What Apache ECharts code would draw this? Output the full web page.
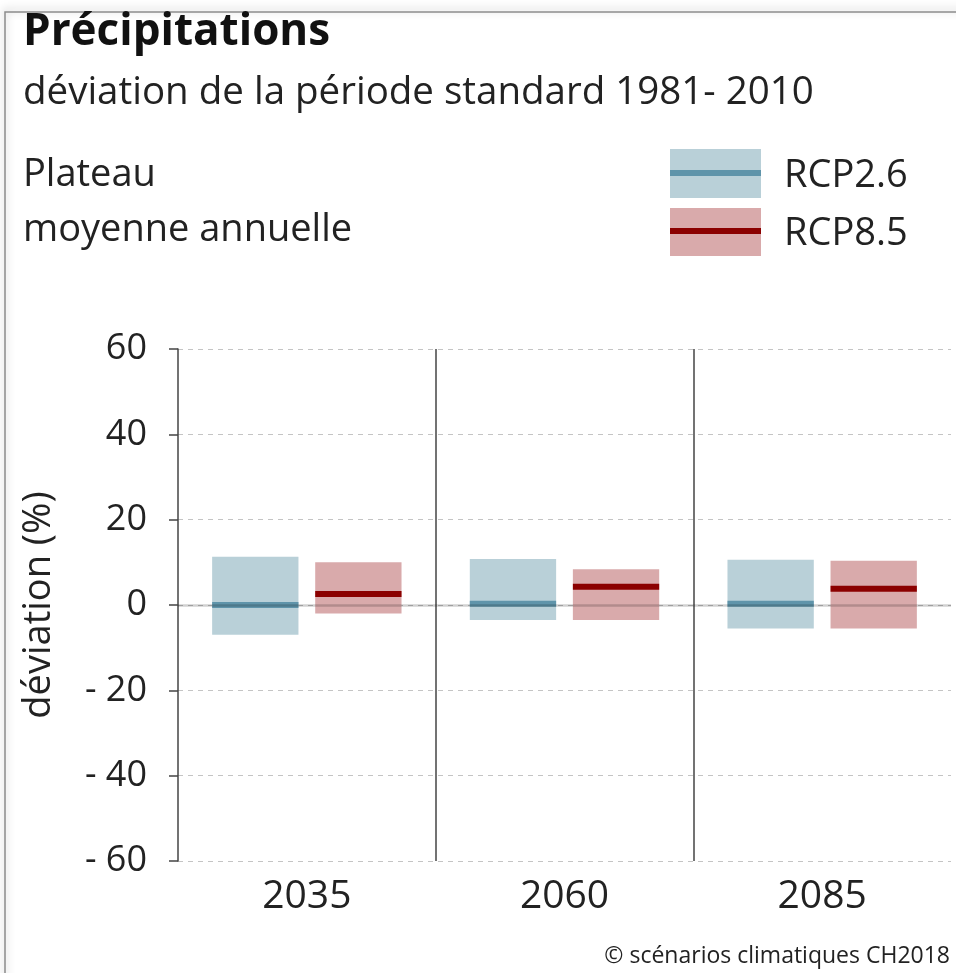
<!DOCTYPE html>
<html>
<head>
<meta charset="utf-8">
<script src="https://cdn.jsdelivr.net/npm/echarts@6/dist/echarts.min.js"></script>
<style>
  html, body { margin: 0; padding: 0; background: #fff; }
  #chart { width: 956px; height: 973px; }
</style>
</head>
<body>
<div id="chart"></div>
<script>
// périodes
const years = ['2035', '2060', '2085']
// RCP2.6 : bas / haut / médiane (%)
const rcp26Low = [-7.0, -3.5, -5.5]
const rcp26High = [11.3, 10.8, 10.6]
const rcp26Median = [0.0, 0.3, 0.3]
// RCP8.5
const rcp85Low = [-2.0, -3.5, -5.5]
const rcp85High = [10.0, 8.4, 10.4]
const rcp85Median = [2.6, 4.3, 3.8]
// graduations
const yTicks = [-60, -40, -20, 0, 20, 40, 60]

const FONT = 'Open Sans'
const BLUE_FILL = '#b9d0d8'
const BLUE_LINE = '#5f94aa'
const RED_FILL = '#d9aaab'
const RED_LINE = '#8b0000'

function boxData (low, high, med) {
  return years.map((y, i) => [i, low[i], high[i], med[i]])
}

function renderBox (offset, fill, line) {
  return function (params, api) {
    const cat = api.value(0)
    const lo = api.coord([cat, api.value(1)])
    const hi = api.coord([cat, api.value(2)])
    const med = api.coord([cat, api.value(3)])
    const band = api.size([1, 0])[0]
    const w = band * 0.335
    const cx = lo[0] + band * offset
    return {
      type: 'group',
      children: [
        { type: 'rect', shape: { x: cx - w / 2, y: hi[1], width: w, height: lo[1] - hi[1] }, style: { fill: fill } },
        { type: 'rect', shape: { x: cx - w / 2, y: med[1] - 3, width: w, height: 6 }, style: { fill: line } }
      ]
    }
  }
}

const myChart = echarts.init(document.getElementById('chart'))
myChart.setOption({
  animation: false,
  textStyle: { fontFamily: FONT, color: '#222' },
  grid: { left: 178, right: 5, top: 349, bottom: 112 },
  xAxis: {
    type: 'category',
    data: years,
    axisLine: { show: false },
    axisTick: { show: false },
    axisLabel: { fontSize: 39, color: '#222', margin: 16, fontFamily: FONT },
    splitLine: { show: true, showMinLine: false, showMaxLine: false, lineStyle: { color: '#444', width: 1.5 } }
  },
  yAxis: {
    type: 'value',
    min: -60,
    max: 60,
    interval: 20,
    name: 'déviation (%)',
    nameLocation: 'middle',
    nameGap: 120,
    nameTextStyle: { fontSize: 38, color: '#222', fontFamily: FONT },
    axisLine: { show: true, lineStyle: { color: '#444', width: 1.5 } },
    axisTick: { show: true, length: 9, lineStyle: { color: '#444', width: 1.5 } },
    axisLabel: {
      fontSize: 36,
      color: '#222',
      margin: 31,
      fontFamily: FONT,
      formatter: v => (yTicks.indexOf(v) >= 0 && v < 0) ? '- ' + Math.abs(v) : String(v)
    },
    splitLine: { show: true, lineStyle: { color: '#c4c4c4', type: [5, 5], width: 1 } }
  },
  series: [
    {
      name: 'RCP2.6',
      type: 'custom',
      renderItem: renderBox(-0.2, BLUE_FILL, BLUE_LINE),
      encode: { x: 0, y: [1, 2, 3] },
      data: boxData(rcp26Low, rcp26High, rcp26Median),
      z: 2
    },
    {
      name: 'RCP8.5',
      type: 'custom',
      renderItem: renderBox(0.2, RED_FILL, RED_LINE),
      encode: { x: 0, y: [1, 2, 3] },
      data: boxData(rcp85Low, rcp85High, rcp85Median),
      z: 2,
      markLine: {
        silent: true,
        symbol: 'none',
        label: { show: false },
        lineStyle: { color: 'rgba(0,0,0,0.18)', width: 2.5, type: 'solid' },
        data: [{ yAxis: 0 }],
        z: 5
      }
    }
  ],
  graphic: [
    // cadre
    {
      type: 'rect',
      shape: { x: 5, y: 12, width: 1000, height: 1000 },
      style: { fill: 'none', stroke: '#8c8c8c', lineWidth: 1.5, shadowBlur: 8, shadowColor: 'rgba(0,0,0,0.35)', shadowOffsetY: -2 },
      z: -1,
      silent: true
    },
    { type: 'text', left: 23, top: 10, style: { text: 'Précipitations', fontSize: 44, fontWeight: 'bold', fontFamily: FONT, fill: '#111' } },
    { type: 'text', left: 23, top: 74, style: { text: 'déviation de la période standard 1981- 2010', fontSize: 38.5, fontFamily: FONT, fill: '#222' } },
    { type: 'text', left: 23, top: 156, style: { text: 'Plateau', fontSize: 38, fontFamily: FONT, fill: '#222' } },
    { type: 'text', left: 23, top: 211, style: { text: 'moyenne annuelle', fontSize: 38, fontFamily: FONT, fill: '#222' } },
    // légende
    { type: 'rect', shape: { x: 670, y: 149, width: 91, height: 49 }, style: { fill: BLUE_FILL } },
    { type: 'rect', shape: { x: 670, y: 170, width: 91, height: 6 }, style: { fill: BLUE_LINE } },
    { type: 'text', left: 784, top: 157, style: { text: 'RCP2.6', fontSize: 38, fontFamily: FONT, fill: '#222' } },
    { type: 'rect', shape: { x: 670, y: 208, width: 91, height: 48 }, style: { fill: RED_FILL } },
    { type: 'rect', shape: { x: 670, y: 228, width: 91, height: 6 }, style: { fill: RED_LINE } },
    { type: 'text', left: 784, top: 215, style: { text: 'RCP8.5', fontSize: 38, fontFamily: FONT, fill: '#222' } },
    // source
    { type: 'text', right: 6, top: 945, style: { text: '© scénarios climatiques CH2018', fontSize: 23, fontFamily: FONT, fill: '#222' } }
  ]
})
</script>
</body>
</html>
